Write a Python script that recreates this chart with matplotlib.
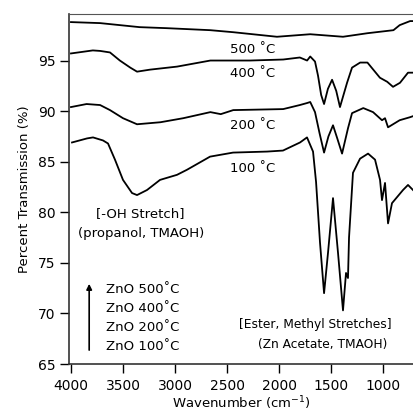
import matplotlib.pyplot as plt

# FTIR spectra of ZnO films annealed at different temperatures
wn_500 = [4000, 3720, 3340, 3080, 2660, 2440, 2020, 1700, 1385, 1150, 900, 840, 740, 712]
t_500 = [98.8, 98.7, 98.3, 98.2, 98.0, 97.8, 97.35, 97.6, 97.35, 97.7, 98.0, 98.5, 98.9, 98.9]

wn_400 = [4000, 3790, 3720, 3625, 3530, 3430, 3365, 3240, 2980, 2660, 2280, 1960, 1800, 1730,
          1700, 1654, 1625, 1595, 1567, 1530, 1490, 1450, 1414, 1346, 1298, 1220, 1150, 1030,
          960, 904, 837, 760, 712]
t_400 = [95.7, 96.0, 95.95, 95.8, 95.0, 94.3, 93.9, 94.1, 94.4, 95.0, 95.0, 95.1, 95.3, 95.0,
         95.4, 94.9, 93.5, 91.6, 90.7, 92.2, 93.1, 92.0, 90.4, 92.8, 94.3, 94.8, 94.8, 93.3,
         92.9, 92.4, 92.8, 93.8, 93.8]

wn_200 = [4000, 3850, 3720, 3625, 3500, 3365, 3140, 2920, 2660, 2560, 2440, 1960, 1800, 1730,
          1700, 1654, 1610, 1567, 1525, 1481, 1440, 1394, 1337, 1298, 1190, 1096, 1010, 981,
          952, 840, 740, 712]
t_200 = [90.4, 90.7, 90.6, 90.1, 89.3, 88.7, 88.9, 89.3, 89.9, 89.7, 90.1, 90.2, 90.6, 90.8,
         90.9, 89.9, 87.8, 85.9, 87.5, 88.6, 87.3, 85.8, 88.3, 89.8, 90.3, 89.9, 89.1, 89.3,
         88.4, 89.1, 89.4, 89.5]

wn_100 = [3990, 3846, 3788, 3692, 3644, 3577, 3500, 3413, 3365, 3269, 3144, 2981, 2885, 2663,
          2442, 2115, 1962, 1798, 1731, 1673, 1644, 1606, 1567, 1529, 1481, 1433, 1385, 1356,
          1337, 1327, 1289, 1221, 1144, 1077, 1029, 1010, 981, 952, 914, 808, 760, 712]
t_100 = [86.9, 87.3, 87.4, 87.1, 86.8, 85.2, 83.2, 81.9, 81.7, 82.2, 83.2, 83.7, 84.2, 85.5,
         85.9, 86.0, 86.1, 86.9, 87.4, 86.0, 83.0, 77.0, 72.0, 76.0, 81.4, 76.0, 70.3, 74.0,
         73.5, 77.5, 83.9, 85.3, 85.8, 85.2, 83.2, 81.2, 82.9, 78.9, 80.9, 82.2, 82.7, 82.2]

curve_labels = ["500 ˚C", "400 ˚C", "200 ˚C", "100 ˚C"]
label_y = [96.1, 93.7, 88.6, 84.3]
legend_items = ["ZnO 500˚C", "ZnO 400˚C", "ZnO 200˚C", "ZnO 100˚C"]

fig = plt.figure(figsize=(4.13, 4.20), dpi=100)
ax = fig.add_axes([69 / 413, 56 / 420, 344 / 413, 350 / 420])

for wn, t in [(wn_500, t_500), (wn_400, t_400), (wn_200, t_200), (wn_100, t_100)]:
    ax.plot(wn, t, color='black', lw=1.3)

ax.set_xlim(4019, 712)
ax.set_ylim(65, 99.6)
ax.set_xticks([4000, 3500, 3000, 2500, 2000, 1500, 1000])
ax.set_yticks([65, 70, 75, 80, 85, 90, 95])
ax.tick_params(direction='out', length=6.5, width=1, labelsize=10, pad=3)
ax.tick_params(axis='x', pad=4)
ax.spines['right'].set_visible(False)
ax.spines['top'].set_color('#555555')
for s in ['left', 'bottom']:
    ax.spines[s].set_linewidth(1.2)
    ax.spines[s].set_color('#333333')

ax.set_ylabel("Percent Transmission (%)", fontsize=9.5, labelpad=5)
ax.set_xlabel(r"Wavenumber (cm$^{-1}$)", fontsize=9.5, labelpad=1)

for lab, y in zip(curve_labels, label_y):
    ax.text(2250, y, lab, fontsize=9.5, ha='center', va='center')

ax.text(3330, 79.9, "[-OH Stretch]", fontsize=9.5, ha='center', va='center')
ax.text(3330, 77.9, "(propanol, TMAOH)", fontsize=9.5, ha='center', va='center')
ax.text(2380, 68.9, "[Ester, Methyl Stretches]", fontsize=8.8, ha='left', va='center')
ax.text(2200, 66.9, "(Zn Acetate, TMAOH)", fontsize=8.8, ha='left', va='center')

ax.annotate("", xy=(3825, 73.2), xytext=(3825, 66.1),
            arrowprops=dict(arrowstyle='-|>', color='black', lw=1.2, mutation_scale=8))
for i, lab in enumerate(legend_items):
    ax.text(3660, 72.4 - i * 1.88, lab, fontsize=9.5, ha='left', va='center')

fig.savefig("out.png", dpi=100)
